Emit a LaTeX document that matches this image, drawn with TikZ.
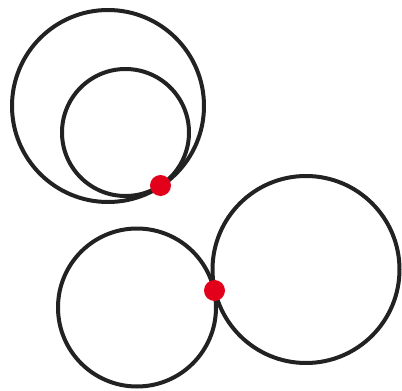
\documentclass[tikz,border=0pt]{standalone}
\usepackage{tikz}

\definecolor{ringcol}{HTML}{222222}
\definecolor{dotred}{HTML}{E2001A}

\begin{document}
\begin{tikzpicture}[x=1pt,y=-1pt, ring/.style={draw=ringcol, line width=4pt}, touch/.style={fill=dotred}]
	\useasboundingbox (0,0) rectangle (402,391);
	% internally tangent pair
	\coordinate (bigc) at (108,106);
	\coordinate (smallc) at (125.5,132.5);
	\draw[ring] (bigc) circle[radius=96pt];
	\draw[ring] (smallc) circle[radius=63.5pt];
	\fill[touch] (160.5,185.5) circle[radius=10.5pt];
	% externally tangent pair
	\coordinate (leftc) at (137,307.5);
	\coordinate (rightc) at (306,269.5);
	\draw[ring] (leftc) circle[radius=79pt];
	\draw[ring] (rightc) circle[radius=93.5pt];
	\fill[touch] (214.5,290.5) circle[radius=10.5pt];
\end{tikzpicture}
\end{document}
